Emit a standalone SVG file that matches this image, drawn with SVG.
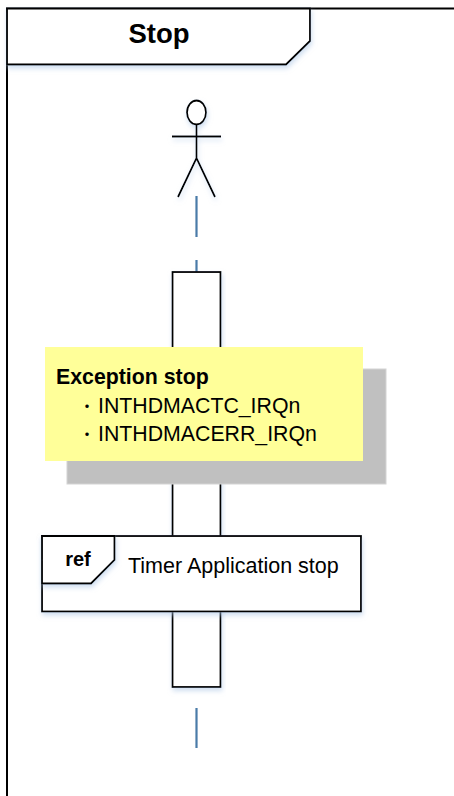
<svg xmlns="http://www.w3.org/2000/svg" width="454" height="796" viewBox="0 0 454 796">
<style>
text{font-family:"Liberation Sans",Arial,sans-serif;fill:#000}
.o{fill:#fff;stroke:#000;stroke-width:1.8}
.l{fill:none;stroke:#000;stroke-width:1.8}
.d{fill:none;stroke:#4a7ba8;stroke-width:2.2}
.b{font-weight:bold}
.c{font-family:"Noto Sans CJK JP","Liberation Sans",sans-serif;font-size:16px}
</style>
<defs><filter id="s" x="-10%" y="-10%" width="120%" height="130%"><feDropShadow dx="1" dy="3" stdDeviation="2.500" flood-color="#a9c4e4" flood-opacity=".55"/></filter></defs>
<rect width="454" height="796" fill="#fff"/>
<g id="frame">
<path class="l" d="M7 796V8.500H454" style="stroke-width:2"/>
<path class="o" d="M7 8.500H310V41L286 64.500H7Z" filter="url(#s)"/>
<text class="b" x="159" y="43" font-size="27.500" text-anchor="middle">Stop</text>
</g>
<g id="actor" filter="url(#s)">
<ellipse class="o" cx="196.500" cy="112.500" rx="9.500" ry="12"/>
<path class="l" d="M196.500 125V158M172 136.500H221M178 197L196.500 158L215 197"/>
</g>
<g id="connectors">
<path class="d" d="M196.500 196V237M196.500 260V272M196.500 708V748"/>
</g>
<g id="activation">
<rect class="o" x="172.500" y="272" width="48" height="415" filter="url(#s)"/>
</g>
<g id="exception-note">
<rect x="67" y="369" width="319" height="115" fill="#c0c0c0" stroke="#d4d4d4" stroke-width="1"/>
<rect x="45" y="347" width="318" height="114" fill="#ffff99"/>
<text class="b" x="56" y="384" font-size="21.300">Exception stop</text>
<text class="c" x="79" y="412">・</text>
<text x="98" y="413" font-size="21.300">INTHDMACTC_IRQn</text>
<text class="c" x="79" y="440">・</text>
<text x="98" y="441" font-size="21.300">INTHDMACERR_IRQn</text>
</g>
<g id="ref">
<rect class="o" x="42" y="536" width="319" height="75.500" filter="url(#s)"/>
<path class="o" d="M42 536H114.500V560L91 583.500H42Z" filter="url(#s)"/>
<text class="b" x="78" y="566" font-size="20" text-anchor="middle">ref</text>
<text x="128" y="573" font-size="21.500">Timer Application stop</text>
</g>
</svg>
